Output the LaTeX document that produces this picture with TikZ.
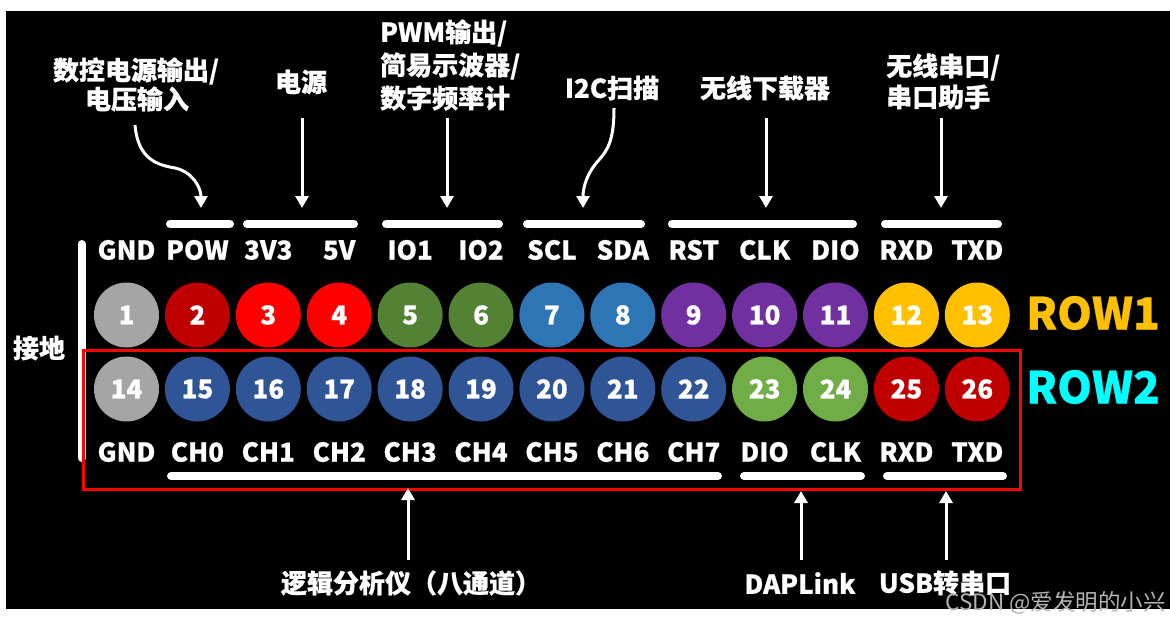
\documentclass[tikz,border=0pt]{standalone}
\usepackage{fontspec}
\setmainfont{Noto Sans CJK SC}[BoldFeatures={FakeBold=0.6}]
\usetikzlibrary{arrows.meta}
\definecolor{pgray}{HTML}{A5A5A5}
\definecolor{pdred}{HTML}{C00000}
\definecolor{pred}{HTML}{FF0000}
\definecolor{pdgreen}{HTML}{548235}
\definecolor{plgreen}{HTML}{70AD47}
\definecolor{plblue}{HTML}{2E75B6}
\definecolor{pnavy}{HTML}{2F5597}
\definecolor{ppurple}{HTML}{7030A0}
\definecolor{pgold}{HTML}{FFC000}
\definecolor{pcyan}{HTML}{00FFFF}
\definecolor{wmark}{HTML}{B4B4B4}
\tikzset{
  pin/.style={circle, minimum size=65pt, inner sep=0pt, fill=#1, text=white,
    font=\fontsize{26}{30}\selectfont\bfseries},
  lbl/.style={text=white, inner sep=0pt, font=\fontsize{26}{30}\selectfont\bfseries},
  bar/.style={white, line width=8pt, line cap=round},
  arr/.style={white, line width=3pt, -{Triangle[width=13pt,length=12pt]}},
  rowlbl/.style={inner sep=0pt, font=\fontsize{44}{50}\selectfont\bfseries},
}
\begin{document}
\begin{tikzpicture}[x=1pt,y=-1pt]
\useasboundingbox (0,0) rectangle (1170,624);
\fill[white] (0,0) rectangle (1170,624);
\fill[black] (6,11) rectangle (1170,609);

% pins row 1
\foreach \i/\c in {1/pgray,2/pdred,3/pred,4/pred,5/pdgreen,6/pdgreen,7/plblue,8/plblue,9/ppurple,10/ppurple,11/ppurple,12/pgold,13/pgold}{
  \node[pin=\c] (p\i) at ({126.5+70.9*(\i-1)},315) {\i};
}
% pins row 2
\foreach \i/\c in {14/pgray,15/pnavy,16/pnavy,17/pnavy,18/pnavy,19/pnavy,20/pnavy,21/pnavy,22/pnavy,23/plgreen,24/plgreen,25/pdred,26/pdred}{
  \node[pin=\c] (p\i) at ({126.5+70.9*(\i-14)},389) {\i};
}
% top pin labels
\foreach \i/\t in {1/GND,2/POW,3/3V3,4/5V,5/IO1,6/IO2,7/SCL,8/SDA,9/RST,10/CLK,11/DIO,12/RXD,13/TXD}{
  \node[lbl] (t\i) at ({126.5+70.9*(\i-1)},250) {\t};
}
% bottom pin labels
\foreach \i/\t in {14/GND,15/CH0,16/CH1,17/CH2,18/CH3,19/CH4,20/CH5,21/CH6,22/CH7,23/DIO,24/CLK,25/RXD,26/TXD}{
  \node[lbl] (t\i) at ({126.5+70.9*(\i-14)},452) {\t};
}

% group bars
\draw[bar] (170,224) -- (230,224);
\draw[bar] (247,224) -- (354,224);
\draw[bar] (386,224) -- (499,224);
\draw[bar] (527,224) -- (641,224);
\draw[bar] (672,224) -- (853,224);
\draw[bar] (885,224) -- (998,224);
\draw[bar] (171,476) -- (718,476);
\draw[bar] (744,476) -- (861,476);
\draw[bar] (887,476) -- (1003,476);
\draw[bar] (81.5,244) -- (81.5,458);

% red frame
\draw[pred, line width=3pt] (83.5,350.5) rectangle (1020,489.5);

% ground label and row labels
\node[lbl] (gnd) at (39,348) {接地};
\node[rowlbl, text=pgold] (row1) at (1093,313) {ROW1};
\node[rowlbl, text=pcyan] (row2) at (1093,387) {ROW2};

% top annotations
\node[lbl] (a1a) at (136,71) {数控电源输出/};
\node[lbl] (a1b) at (137,99) {电压输入};
\node[lbl] (a2) at (301,82) {电源};
\node[lbl, anchor=west] (a3a) at (380,33) {PWM输出/};
\node[lbl, anchor=west] (a3b) at (380,66) {简易示波器/};
\node[lbl, anchor=west] (a3c) at (380,98) {数字频率计};
\node[lbl] (a4) at (612,88) {I2C扫描};
\node[lbl] (a5) at (765,88) {无线下载器};
\node[lbl, anchor=west] (a6a) at (886,67) {无线串口/};
\node[lbl, anchor=west] (a6b) at (886,97) {串口助手};

\coordinate (s1) at (135,125);  \coordinate (e1) at (201,208);
\coordinate (s2) at (302,118);  \coordinate (e2) at (302,208);
\coordinate (s3) at (447,118);  \coordinate (e3) at (447,208);
\coordinate (s4) at (614,108);  \coordinate (e4) at (583,208);
\coordinate (s5) at (766,118);  \coordinate (e5) at (766,208);
\coordinate (s6) at (941,118);  \coordinate (e6) at (941,208);

\draw[arr] (s1) .. controls (138,160) and (158,165) .. (175,168) .. controls (193,172) and (201,188) .. (e1);
\draw[arr] (s2) -- (e2);
\draw[arr] (s3) -- (e3);
\draw[arr] (s4) .. controls (614,140) and (608,150) .. (598,161) .. controls (588,172) and (583,186) .. (e4);
\draw[arr] (s5) -- (e5);
\draw[arr] (s6) -- (e6);

% bottom annotations
\node[lbl] (b1) at (411,583) {逻辑分析仪（八通道）};
\node[lbl] (b2) at (800,583) {DAPLink};
\node[lbl] (b3) at (945,583) {USB转串口};
\coordinate (u1) at (408,560); \coordinate (v1) at (408,488);
\coordinate (u2) at (801,560); \coordinate (v2) at (801,491);
\coordinate (u3) at (946,560); \coordinate (v3) at (946,491);
\draw[arr] (u1) -- (v1);
\draw[arr] (u2) -- (v2);
\draw[arr] (u3) -- (v3);

% watermark
\node[inner sep=0pt, anchor=east, text=wmark, font=\fontsize{22.5}{26}\selectfont] (wm) at (1166,603) {CSDN @爱发明的小兴};
\end{tikzpicture}
\end{document}
